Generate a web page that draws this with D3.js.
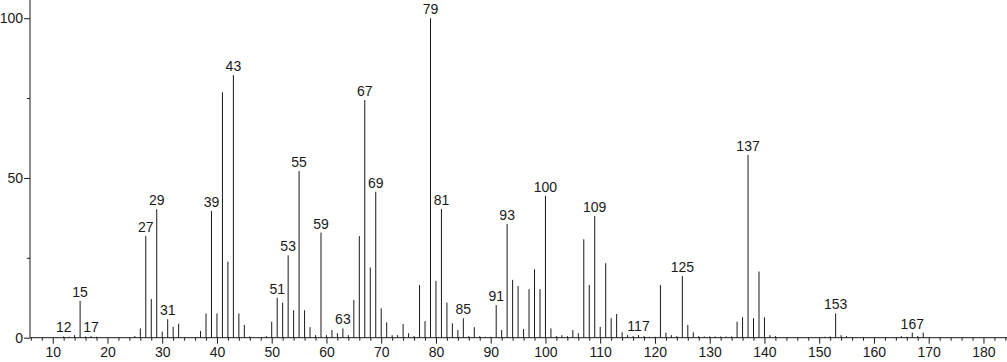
<!DOCTYPE html>
<html><head><meta charset="utf-8">
<script src="https://cdn.jsdelivr.net/npm/d3@7"></script>
<style>
html,body{margin:0;padding:0;background:#fff;}
svg{display:block;font-family:"Liberation Sans",Arial,sans-serif;}
</style></head>
<body>
<svg id="chart" width="1007" height="362"></svg>
<script>
const mz = [12,13,14,15,16,17,18,25,26,27,28,29,30,31,32,33,37,38,39,40,41,42,43,44,45,46,49,
  50,51,52,53,54,55,56,57,58,59,60,61,62,63,64,65,66,67,68,69,70,71,72,73,74,75,76,77,78,79,80,
  81,82,83,84,85,86,87,88,89,90,91,92,93,94,95,96,97,98,99,100,101,102,103,104,105,106,107,108,
  109,110,111,112,113,114,115,116,117,118,119,120,121,122,123,124,125,126,127,128,129,130,131,132,
  133,134,135,136,137,138,139,140,141,142,151,152,153,154,155,165,166,167,168,169];
const intensity = [0.4,0.3,0.8,11.5,0.4,0.5,0.3,0.5,2.9,31.8,12.1,40.2,1.9,5.8,3.4,4.4,2.1,7.6,39.7,7.6,76.8,23.8,82.2,7.6,4.0,0.4,0.5,
  5.0,12.5,11.0,25.8,8.6,52.2,8.6,3.3,0.8,32.9,0.8,2.4,1.4,2.9,0.8,11.8,31.8,74.4,22.0,45.7,9.2,4.8,0.8,0.8,4.3,1.4,0.5,16.5,5.2,100,17.8,
  40.3,11.0,4.5,2.4,6.1,0.5,3.3,0.5,0.3,0.3,10.2,2.4,35.6,18.1,16.2,2.7,15.2,21.4,15.2,44.4,2.9,0.5,0.8,0.5,2.4,1.4,30.8,16.5,
  38.1,3.4,23.3,6.1,7.4,1.7,0.8,0.5,0.8,0.5,0.3,0.3,16.5,1.6,0.8,0.5,19.3,4.0,1.7,0.5,0.4,0.4,0.4,0.4,
  0.4,0.4,5.0,6.4,57.2,6.1,20.7,6.4,0.8,0.5,0.3,0.4,7.6,0.8,0.5,0.5,0.3,1.6,0.5,1.6];
const labeled = [12,15,17,27,29,31,39,43,51,53,55,59,63,67,69,79,81,85,91,93,100,109,117,125,137,153,167];
const xMajorTicks = d3.range(10, 181, 10);
const xMinorTicks = d3.range(6, 185, 2).filter(v => v % 10 !== 0);
const yMajorTicks = [0, 50, 100];
const yMinorTicks = [25, 75];

const svg = d3.select("#chart");
const x = d3.scaleLinear().domain([5.85, 184.3]).range([30, 1007]);
const y = d3.scaleLinear().domain([0, 105.7]).range([337.7, 0]);
const ink = "#1a1a1a";

// bars
svg.append("g").selectAll("line").data(mz.map((m,i)=>({m, v:intensity[i]})))
  .join("line")
  .attr("x1", d=>x(d.m)).attr("x2", d=>x(d.m))
  .attr("y1", y(0)).attr("y2", d=>y(d.v))
  .attr("stroke", ink).attr("stroke-width", 1);

// labels
const lab = labeled.map(m => ({m, v: intensity[mz.indexOf(m)]}));
svg.append("g").selectAll("text").data(lab).join("text")
  .attr("x", d=>x(d.m)).attr("y", d=>y(d.v) - 4)
  .attr("text-anchor","middle").attr("font-size", 14).attr("fill", ink)
  .text(d=>d.m);

// x axis
const gx = svg.append("g").attr("transform", `translate(0,${y(0)})`);
gx.call(d3.axisBottom(x).tickValues(xMajorTicks).tickSize(6).tickPadding(3).tickFormat(d3.format("d")));
gx.append("g").call(d3.axisBottom(x).tickValues(xMinorTicks).tickSize(3).tickFormat(""))
  .select(".domain").remove();
gx.selectAll(".domain").attr("d", `M${x.range()[0]},0H${x.range()[1]}`);
// y axis
const gy = svg.append("g").attr("transform", `translate(${x.range()[0]},0)`);
gy.call(d3.axisLeft(y).tickValues(yMajorTicks).tickSize(6).tickPadding(1).tickFormat(d3.format("d")));
gy.append("g").call(d3.axisLeft(y).tickValues(yMinorTicks).tickSize(3).tickFormat(""))
  .select(".domain").remove();
gy.selectAll(".domain").attr("d", `M0,${y.range()[0]}V0`);

svg.selectAll(".tick line, .domain").attr("stroke", ink);
svg.selectAll(".tick text").attr("font-size", 14).attr("fill", ink)
  .attr("font-family", '"Liberation Sans",Arial,sans-serif');
</script>
</body></html>
